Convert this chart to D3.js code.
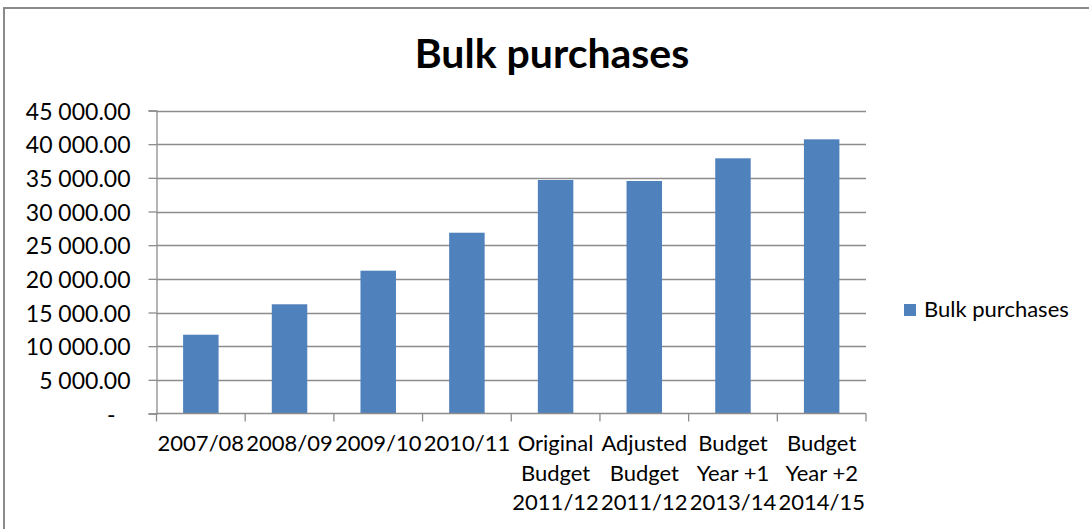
<!DOCTYPE html>
<html>
<head>
<meta charset="utf-8">
<script src="https://cdn.jsdelivr.net/npm/d3@7"></script>
<style>
  html, body { margin: 0; padding: 0; background: #fff; }
  svg { display: block; }
  text { font-family: Lato, "Open Sans", sans-serif; fill: #000; }
</style>
</head>
<body>
<svg id="chart" width="1089" height="529"></svg>
<script>
// Bulk purchases by financial year
const categories = [
  ["2007/08"],
  ["2008/09"],
  ["2009/10"],
  ["2010/11"],
  ["Original", "Budget", "2011/12"],
  ["Adjusted", "Budget", "2011/12"],
  ["Budget", "Year +1", "2013/14"],
  ["Budget", "Year +2", "2014/15"]
];
const bulkPurchases = [11700, 16220, 21210, 26850, 34680, 34530, 37900, 40720];
const yTicks = [0, 5000, 10000, 15000, 20000, 25000, 30000, 35000, 40000, 45000];
const seriesName = "Bulk purchases";
const chartTitle = "Bulk purchases";

const svg = d3.select("#chart");
const W = 1089, H = 529;

// outer chart-area frame
svg.append("rect")
  .attr("x", 4).attr("y", 8)
  .attr("width", W + 10).attr("height", H + 10)
  .attr("fill", "#fff")
  .attr("stroke", "#8a8a8a").attr("stroke-width", 2);

const plot = { left: 156.5, right: 866, top: 110.5, bottom: 413.5 };

const keys = categories.map((c, i) => i);
const x = d3.scaleBand()
  .domain(keys)
  .range([plot.left, plot.right])
  .paddingInner(0.6)
  .paddingOuter(0.3);

const y = d3.scaleLinear()
  .domain([0, 45000])
  .range([plot.bottom, plot.top]);

const locale = d3.formatLocale({ decimal: ".", thousands: " ", grouping: [3], currency: ["", ""] });
const fmt = locale.format(",.2f");

// horizontal gridlines
svg.append("g")
  .selectAll("line")
  .data(yTicks.filter(d => d > 0))
  .join("line")
  .attr("x1", plot.left).attr("x2", plot.right)
  .attr("y1", d => Math.round(y(d)) + 0.5).attr("y2", d => Math.round(y(d)) + 0.5)
  .attr("stroke", "#8c8c8c").attr("stroke-width", 1.3);

// bars
svg.append("g")
  .selectAll("rect")
  .data(bulkPurchases)
  .join("rect")
  .attr("x", (d, i) => x(i))
  .attr("width", x.bandwidth())
  .attr("y", d => y(d))
  .attr("height", d => y(0) - y(d))
  .attr("fill", "#4f81bd");

// y axis
const yAxis = d3.axisLeft(y)
  .tickValues(yTicks)
  .tickSize(8)
  .tickFormat(d => d === 0 ? "-" : fmt(d));
const gy = svg.append("g")
  .attr("transform", `translate(${plot.left},0)`)
  .call(yAxis);
gy.select(".domain").attr("stroke", "#8c8c8c").attr("stroke-width", 1.3);
gy.selectAll(".tick line").attr("stroke", "#8c8c8c").attr("stroke-width", 1.3);
gy.selectAll(".tick text")
  .attr("x", d => d === 0 ? -41 : -26)
  .attr("dy", "0.38em")
  .style("font-size", "23px")
  .style("fill", "#000");

// x axis with category boundary ticks
const gx = svg.append("g")
  .attr("transform", `translate(0,${plot.bottom})`);
gx.append("line")
  .attr("x1", plot.left).attr("x2", plot.right)
  .attr("stroke", "#8c8c8c").attr("stroke-width", 1.3);
const step = x.step();
const bounds = d3.range(categories.length + 1).map(i => plot.left + i * step);
gx.selectAll("line.tick")
  .data(bounds)
  .join("line")
  .attr("class", "tick")
  .attr("x1", d => d).attr("x2", d => d)
  .attr("y1", 0).attr("y2", 8)
  .attr("stroke", "#8c8c8c").attr("stroke-width", 1.3);

const lab = svg.append("g")
  .selectAll("text")
  .data(categories)
  .join("text")
  .attr("text-anchor", "middle")
  .attr("transform", (d, i) => `translate(${x(i) + x.bandwidth() / 2},451)`)
  .style("font-size", "22px");
lab.selectAll("tspan")
  .data(d => d)
  .join("tspan")
  .attr("x", 0)
  .attr("y", (d, j) => j * 29.5)
  .text(d => d);

// title
svg.append("text")
  .attr("x", 552).attr("y", 68)
  .attr("text-anchor", "middle")
  .style("font-size", "41px")
  .style("font-weight", "bold")
  .text(chartTitle);

// legend
const lg = svg.append("g").attr("transform", "translate(904,304)");
lg.append("rect").attr("width", 12).attr("height", 12).attr("fill", "#4f81bd");
lg.append("text").attr("x", 20).attr("y", 12.5).style("font-size", "22px").text(seriesName);
</script>
</body>
</html>
